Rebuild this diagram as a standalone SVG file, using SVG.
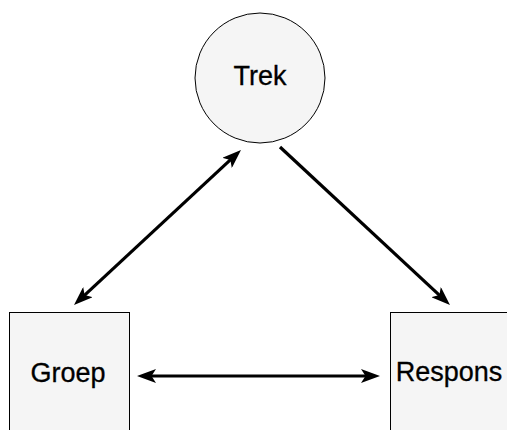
<svg xmlns="http://www.w3.org/2000/svg" width="507" height="430" viewBox="0 0 507 430">
  <style>
    .node { fill: #f5f5f5; stroke: #000; stroke-width: 1; }
    .label { font-family: "Liberation Sans", Arial, Helvetica, sans-serif; font-size: 27px; fill: #000; stroke: #000; stroke-width: 0.3; text-anchor: middle; }
    .edge { stroke: #000; stroke-width: 3.2; fill: none; }
  </style>
  <defs>
    <marker id="head" viewBox="0 0 19 14" markerUnits="userSpaceOnUse" markerWidth="19" markerHeight="14" refX="7" refY="7" orient="auto-start-reverse">
      <path d="M0,0 L19,7 L0,14 L4.5,7 z" fill="#000"/>
    </marker>
  </defs>
  <rect width="507" height="430" fill="#fff"/>

  <g id="trek">
    <circle class="node" cx="260" cy="78" r="65" stroke="#333"/>
    <text class="label" x="260" y="85">Trek</text>
  </g>

  <g id="groep">
    <rect class="node" x="9.5" y="312.5" width="120" height="130"/>
    <text class="label" x="68" y="382">Groep</text>
  </g>

  <g id="respons">
    <rect class="node" x="390.5" y="312.5" width="120" height="130"/>
    <text class="label" x="449" y="381">Respons</text>
  </g>

  <g id="connectors">
    <line class="edge" x1="82.8" y1="296.8" x2="232.2" y2="158.2" marker-start="url(#head)" marker-end="url(#head)"/>
    <line class="edge" x1="280" y1="147" x2="441.2" y2="296.8" marker-end="url(#head)"/>
    <line class="edge" x1="149" y1="376" x2="368" y2="376" marker-start="url(#head)" marker-end="url(#head)"/>
  </g>
</svg>
